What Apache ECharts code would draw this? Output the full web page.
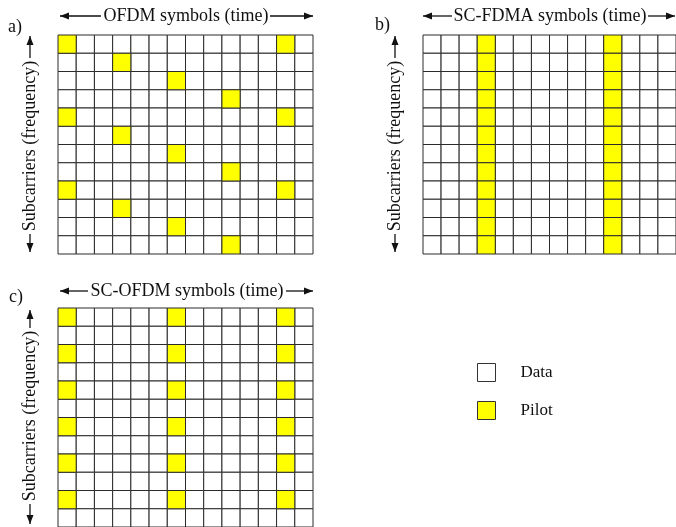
<!DOCTYPE html>
<html><head><meta charset="utf-8">
<script src="https://cdn.jsdelivr.net/npm/echarts@6/dist/echarts.min.js"></script>
<style>html,body{margin:0;padding:0;background:#fff}#c{width:676px;height:527px}</style>
</head><body><div id="c"></div>
<script>
// ---- data ----
const nCols = 14;
const nRows = 12;
const pilotsA = [[0,0],[12,0],[3,1],[6,2],[9,3],[0,4],[12,4],[3,5],[6,6],[9,7],[0,8],[12,8],[3,9],[6,10],[9,11]];
const pilotColsB = [3, 10];
const pilotColsC = [0, 6, 12];
const pilotRowsC = [0, 2, 4, 6, 8, 10];
const titles = ['OFDM symbols (time)', 'SC-FDMA symbols (time)', 'SC-OFDM symbols (time)'];
const panelLabels = ['a)', 'b)', 'c)'];
const yTitle = 'Subcarriers (frequency)';
const legendNames = ['Data', 'Pilot'];

// ---- build cells ----
function buildPanel(pilots) {
  const key = new Set(pilots.map(p => p[0] + ',' + p[1]));
  const data = [];
  for (let r = 0; r < nRows; r++) for (let c = 0; c < nCols; c++) {
    if (!key.has(c + ',' + r)) data.push([c, r]);
  }
  return { data: data, pilot: pilots };
}
const pilotsB = [];
for (let r = 0; r < nRows; r++) pilotColsB.forEach(c => pilotsB.push([c, r]));
const pilotsC = [];
pilotRowsC.forEach(r => pilotColsC.forEach(c => pilotsC.push([c, r])));
const panels = [buildPanel(pilotsA), buildPanel(pilotsB), buildPanel(pilotsC)];

const layout = [
  { left: 58, top: 35, width: 255, height: 219 },
  { left: 423, top: 35, width: 255, height: 219 },
  { left: 58, top: 308, width: 255, height: 219 }
];

const FONT = 'Liberation Serif';
const INK = '#111';
const YEL = '#ffff00';

function renderCell(params, api) {
  const c = api.value(0), r = api.value(1);
  const p0 = api.coord([c, r]);
  const p1 = api.coord([c + 1, r + 1]);
  return {
    type: 'rect',
    shape: { x: Math.min(p0[0], p1[0]), y: Math.min(p0[1], p1[1]),
             width: Math.abs(p1[0] - p0[0]), height: Math.abs(p1[1] - p0[1]) },
    style: { fill: api.visual('color'), stroke: '#2b2b2b', lineWidth: 1 }
  };
}

const grids = layout.map(l => Object.assign({ containLabel: false }, l));
const xAxes = layout.map((l, i) => ({ type: 'value', gridIndex: i, min: 0, max: nCols, show: false }));
const yAxes = layout.map((l, i) => ({ type: 'value', gridIndex: i, min: 0, max: nRows, inverse: true, show: false }));
const series = [];
panels.forEach((p, i) => {
  series.push({ type: 'custom', name: legendNames[0], xAxisIndex: i, yAxisIndex: i, renderItem: renderCell,
    encode: { x: 0, y: 1 }, itemStyle: { color: '#ffffff' }, data: p.data, silent: true, animation: false });
  series.push({ type: 'custom', name: legendNames[1], xAxisIndex: i, yAxisIndex: i, renderItem: renderCell,
    encode: { x: 0, y: 1 }, itemStyle: { color: YEL }, data: p.pilot, silent: true, animation: false });
});

// ---- annotation graphics ----
const graphic = [];
function txt(x, y, s, rot, align) {
  graphic.push({ type: 'text', x: x, y: y, rotation: rot || 0,
    style: { text: s, font: '18px "' + FONT + '"', fill: INK, textAlign: align || 'center', textVerticalAlign: 'middle' } });
}
function line(x1, y1, x2, y2) {
  graphic.push({ type: 'line', shape: { x1: x1, y1: y1, x2: x2, y2: y2 }, style: { stroke: INK, lineWidth: 1.3 } });
}
function head(tx, ty, dx, dy) { // tip at (tx,ty), direction (dx,dy) unit
  const L = 9, W = 3.5;
  const bx = tx - dx * L, by = ty - dy * L;
  graphic.push({ type: 'polygon', shape: { points: [[tx, ty], [bx - dy * W, by + dx * W], [bx + dy * W, by - dx * W]] },
    style: { fill: INK } });
}
function hTitle(s, cx, y, tipL, endL, startR, tipR) {
  txt(cx, y, s, 0);
  line(tipL, y, endL, y); head(tipL, y, -1, 0);
  line(startR, y, tipR, y); head(tipR, y, 1, 0);
}
function vTitle(x, cy, tipT, endT, startB, tipB) {
  txt(x, cy, yTitle, Math.PI / 2);
  line(x, tipT, x, endT); head(x, tipT, 0, -1);
  line(x, startB, x, tipB); head(x, tipB, 0, 1);
}
hTitle(titles[0], 186, 16, 60, 101, 270, 313);
hTitle(titles[1], 550, 16, 423, 452, 648, 675);
hTitle(titles[2], 187, 291, 60, 88, 286, 313);
vTitle(30, 146, 36, 58, 234, 252);
vTitle(395, 146, 36, 58, 234, 252);
vTitle(30, 416, 310, 328, 504, 524);
txt(8, 27, panelLabels[0], 0, 'left');
txt(375, 25, panelLabels[1], 0, 'left');
txt(9, 297, panelLabels[2], 0, 'left');

const chart = echarts.init(document.getElementById('c'), null, { renderer: 'canvas' });
chart.setOption({
  animation: false,
  backgroundColor: '#fff',
  grid: grids, xAxis: xAxes, yAxis: yAxes,
  legend: {
    data: legendNames, orient: 'vertical', left: 477, top: 363, padding: 0,
    icon: 'rect', itemWidth: 18, itemHeight: 18, itemGap: 19, selectedMode: false,
    itemStyle: { borderColor: '#333', borderWidth: 1 },
    textStyle: { fontFamily: FONT, fontSize: 17, color: INK, padding: [0, 0, 0, 20] }
  },
  series: series,
  graphic: graphic
});
</script></body></html>
